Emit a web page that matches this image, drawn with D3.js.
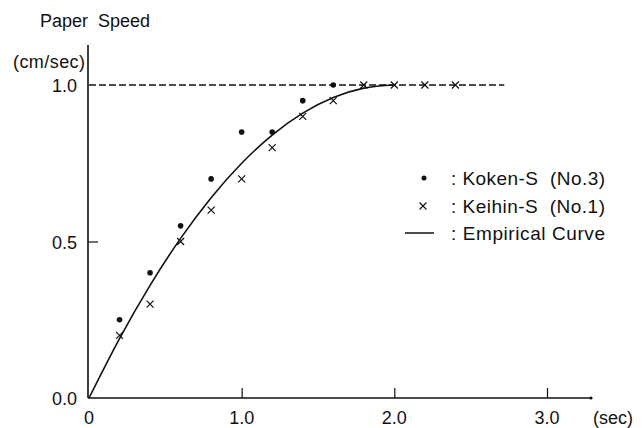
<!DOCTYPE html>
<html><head><meta charset="utf-8">
<script src="https://cdn.jsdelivr.net/npm/d3@7"></script>
<style>
html,body{margin:0;padding:0;background:#fff;}
svg{display:block;}
text{font-family:"Liberation Sans",Arial,sans-serif;fill:#111;}
</style></head>
<body><svg id="c" width="644" height="428"></svg>
<script>
// ---- data ----
const kokenT = [0.2, 0.4, 0.6, 0.8, 1.0, 1.2, 1.4, 1.6];
const kokenV = [0.25, 0.40, 0.55, 0.70, 0.85, 0.85, 0.95, 1.00];
const keihinT = [0.2, 0.4, 0.6, 0.8, 1.0, 1.2, 1.4, 1.6, 1.8, 2.0, 2.2, 2.4];
const keihinV = [0.20, 0.30, 0.50, 0.60, 0.70, 0.80, 0.90, 0.95, 1.00, 1.00, 1.00, 1.00];
const curveT = [0, 0.2, 0.4, 0.6, 0.8, 1.0, 1.2, 1.4, 1.6, 1.8, 2.0];
const curveV = [0, 0.19, 0.36, 0.51, 0.64, 0.75, 0.84, 0.91, 0.96, 0.99, 1.0];
const refLevel = 1.0, refEnd = 2.72;
const xTicks = [0, 1, 2, 3];
const xTickLabels = ["0", "1.0", "2.0", "3.0"];
const yTicks = [0, 0.5, 1.0];
const yTickLabels = ["0.0", "0.5", "1.0"];
const legendLabels = [": Koken-S  (No.3)", ": Keihin-S  (No.1)", ": Empirical Curve"];

const svg = d3.select("#c");
const x = d3.scaleLinear().domain([0, 3]).range([89, 547]);
const y = d3.scaleLinear().domain([0, 1]).range([398, 85]);

// axes lines
svg.append("line").attr("x1", 88).attr("x2", 88).attr("y1", 45).attr("y2", y(0))
  .attr("stroke", "#111").attr("stroke-width", 1.6);
svg.append("line").attr("x1", 88).attr("x2", 592).attr("y1", y(0)).attr("y2", y(0))
  .attr("stroke", "#111").attr("stroke-width", 1.4);
svg.append("circle").attr("cx", 591).attr("cy", y(0)).attr("r", 1.6).attr("fill", "#111");

// x ticks
const xa = d3.axisBottom(x).tickValues(xTicks.filter(d => d > 0)).tickSize(-10).tickFormat("");
const gx = svg.append("g").attr("transform", `translate(0,${y(0)})`).call(xa);
gx.select(".domain").remove();
gx.selectAll(".tick line").attr("stroke", "#111").attr("stroke-width", 1.2);
svg.selectAll("text.xl").data(xTicks).enter().append("text").attr("class", "xl")
  .attr("x", d => x(d)).attr("y", 424).attr("text-anchor", "middle")
  .attr("font-size", 18).text((d, i) => xTickLabels[i]);
svg.append("text").attr("x", 593).attr("y", 424).attr("font-size", 18).text("(sec)");

// y ticks
const ya = d3.axisLeft(y).tickValues([0.5]).tickSize(-10).tickFormat("");
const gy = svg.append("g").attr("transform", "translate(88,0)").call(ya);
gy.select(".domain").remove();
gy.selectAll(".tick line").attr("stroke", "#111").attr("stroke-width", 1.2);
svg.selectAll("text.yl").data(yTicks).enter().append("text").attr("class", "yl")
  .attr("x", 77).attr("y", d => y(d) + 7).attr("text-anchor", "end")
  .attr("font-size", 18).text((d, i) => yTickLabels[i]);

// titles
svg.append("text").attr("x", 40).attr("y", 27).attr("font-size", 18)
  .style("white-space", "pre").text("Paper  Speed");
svg.append("text").attr("x", 13).attr("y", 68).attr("font-size", 18)
  .attr("textLength", 72).attr("lengthAdjust", "spacing").text("(cm/sec)");

// dashed reference
svg.append("line").attr("x1", x(0)).attr("x2", x(refEnd)).attr("y1", y(refLevel)).attr("y2", y(refLevel))
  .attr("stroke", "#111").attr("stroke-width", 1.4).attr("stroke-dasharray", "7,3");

// curve
const curve = curveT.map((t, i) => [t, curveV[i]]);
svg.append("path").datum(curve)
  .attr("d", d3.line().x(d => x(d[0])).y(d => y(d[1])).curve(d3.curveMonotoneX))
  .attr("fill", "none").attr("stroke", "#111").attr("stroke-width", 1.6);

// koken dots
svg.selectAll("circle.k").data(kokenT).enter().append("circle").attr("class", "k")
  .attr("cx", d => x(d)).attr("cy", (d, i) => y(kokenV[i])).attr("r", 2.8).attr("fill", "#111");

// keihin crosses
const cs = 3.5;
const crossPath = (cx, cy) => `M${cx - cs},${cy - cs}L${cx + cs},${cy + cs}M${cx - cs},${cy + cs}L${cx + cs},${cy - cs}`;
svg.selectAll("path.x").data(keihinT).enter().append("path").attr("class", "x")
  .attr("d", (d, i) => crossPath(x(d), y(keihinV[i])))
  .attr("stroke", "#111").attr("stroke-width", 1.2).attr("fill", "none");

// legend
const ly = [178, 206, 233];
svg.append("circle").attr("cx", 424).attr("cy", ly[0]).attr("r", 2.5).attr("fill", "#111");
svg.append("path").attr("d", crossPath(423, ly[1])).attr("stroke", "#111").attr("stroke-width", 1.1);
svg.append("line").attr("x1", 405).attr("x2", 434).attr("y1", ly[2]).attr("y2", ly[2])
  .attr("stroke", "#111").attr("stroke-width", 1.5);
svg.selectAll("text.lg").data(legendLabels).enter().append("text").attr("class", "lg")
  .attr("x", 451).attr("y", (d, i) => ly[i] + 7).attr("font-size", 19)
  .attr("textLength", 154).attr("lengthAdjust", "spacing")
  .style("white-space", "pre").text(d => d);
</script></body></html>
